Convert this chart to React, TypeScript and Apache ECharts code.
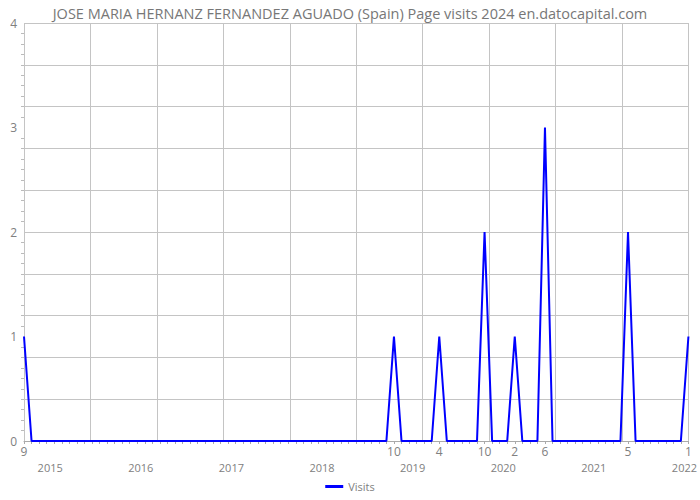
import React, { useEffect, useRef } from "react";
import * as echarts from "echarts";

const title = "JOSE MARIA HERNANZ FERNANDEZ AGUADO (Spain) Page visits 2024 en.datocapital.com";
const seriesName = "Visits";

// Months from 2014-09 to 2022-01
const months: string[] = [
  "2014-09", "2014-10", "2014-11", "2014-12",
  "2015-01", "2015-02", "2015-03", "2015-04", "2015-05", "2015-06", "2015-07", "2015-08", "2015-09", "2015-10", "2015-11", "2015-12",
  "2016-01", "2016-02", "2016-03", "2016-04", "2016-05", "2016-06", "2016-07", "2016-08", "2016-09", "2016-10", "2016-11", "2016-12",
  "2017-01", "2017-02", "2017-03", "2017-04", "2017-05", "2017-06", "2017-07", "2017-08", "2017-09", "2017-10", "2017-11", "2017-12",
  "2018-01", "2018-02", "2018-03", "2018-04", "2018-05", "2018-06", "2018-07", "2018-08", "2018-09", "2018-10", "2018-11", "2018-12",
  "2019-01", "2019-02", "2019-03", "2019-04", "2019-05", "2019-06", "2019-07", "2019-08", "2019-09", "2019-10", "2019-11", "2019-12",
  "2020-01", "2020-02", "2020-03", "2020-04", "2020-05", "2020-06", "2020-07", "2020-08", "2020-09", "2020-10", "2020-11", "2020-12",
  "2021-01", "2021-02", "2021-03", "2021-04", "2021-05", "2021-06", "2021-07", "2021-08", "2021-09", "2021-10", "2021-11", "2021-12",
  "2022-01",
];

const visits: number[] = [
  1, 0, 0, 0,
  0, 0, 0, 0, 0, 0, 0, 0, 0, 0, 0, 0,
  0, 0, 0, 0, 0, 0, 0, 0, 0, 0, 0, 0,
  0, 0, 0, 0, 0, 0, 0, 0, 0, 0, 0, 0,
  0, 0, 0, 0, 0, 0, 0, 0, 0, 1, 0, 0,
  0, 0, 0, 1, 0, 0, 0, 0, 0, 2, 0, 0,
  0, 1, 0, 0, 0, 3, 0, 0, 0, 0, 0, 0,
  0, 0, 0, 0, 2, 0, 0, 0, 0, 0, 0, 0,
  1,
];

const yTicks = [0, 1, 2, 3, 4];

const FONT = "Open Sans";
const TXT = "#808080";
const GRID = "#c4c4c4";

export default function App() {
  const ref = useRef<HTMLDivElement>(null);
  useEffect(() => {
    if (!ref.current) return;
    const chart = echarts.init(ref.current, null, { renderer: "svg" });
    chart.setOption({
      animation: false,
      textStyle: { fontFamily: FONT },
      title: {
        text: title,
        left: "center",
        top: 1,
        textStyle: { fontFamily: FONT, fontSize: 14.5, fontWeight: "normal", color: "#777" },
      },
      legend: {
        bottom: 3,
        left: "center",
        data: [seriesName],
        itemWidth: 18,
        itemHeight: 3,
        icon: "rect",
        textStyle: { fontFamily: FONT, fontSize: 11, color: TXT },
      },
      grid: { left: 24, right: 8, top: 23, bottom: 59, containLabel: false },
      xAxis: [
        {
          type: "category",
          data: months,
          boundaryGap: false,
          axisLine: { show: true, lineStyle: { color: "#aaa" } },
          axisTick: { show: true, interval: 0, length: 3, lineStyle: { color: "#aaa" } },
          axisLabel: {
            interval: (i: number) => visits[i] > 0,
            formatter: (v: string) => String(parseInt(v.slice(5), 10)),
            color: TXT,
            fontSize: 12,
            margin: 4,
            fontFamily: FONT,
          },
          splitLine: { show: false },
        },
        {
          type: "category",
          data: months,
          boundaryGap: false,
          position: "bottom",
          offset: 16,
          axisLine: { show: false },
          axisTick: { show: true, interval: 0, length: 3, lineStyle: { color: "#aaa" } },
          axisLabel: {
            interval: (i: number) => months[i].endsWith("-01"),
            formatter: (v: string) => v.slice(0, 4),
            color: TXT,
            fontSize: 11,
            margin: 5,
            padding: [0, 8, 0, 0],
            fontFamily: FONT,
          },
          splitLine: { show: false },
        },
        {
          type: "value",
          min: 0,
          max: 10,
          interval: 1,
          position: "top",
          axisLine: { show: false },
          axisTick: { show: false },
          axisLabel: { show: false },
          splitLine: { show: true, lineStyle: { color: GRID, width: 1 } },
        },
      ],
      yAxis: [
        {
          type: "value",
          min: 0,
          max: 4,
          interval: 1,
          axisLine: { show: false },
          axisTick: { show: false },
          minorTick: { show: true, splitNumber: 10, length: 3, lineStyle: { color: "#bbb" } },
          axisLabel: {
            color: TXT,
            fontSize: 12,
            margin: 7,
            fontFamily: FONT,
            formatter: (v: number) => (yTicks.includes(v) ? String(v) : ""),
          },
          splitLine: { show: false },
        },
        {
          type: "value",
          min: 0,
          max: 4,
          interval: 0.4,
          position: "right",
          axisLine: { show: false },
          axisTick: { show: false },
          axisLabel: { show: false },
          splitLine: { show: true, lineStyle: { color: GRID, width: 1 } },
        },
      ],
      series: [
        {
          name: seriesName,
          type: "line",
          xAxisIndex: 0,
          yAxisIndex: 0,
          data: visits,
          symbol: "none",
          lineStyle: { color: "#0000ff", width: 2 },
          itemStyle: { color: "#0000ff" },
          z: 5,
        },
      ],
    });
    return () => chart.dispose();
  }, []);
  return <div ref={ref} style={{ width: 700, height: 500, position: "absolute", left: 0, top: 0 }} />;
}
